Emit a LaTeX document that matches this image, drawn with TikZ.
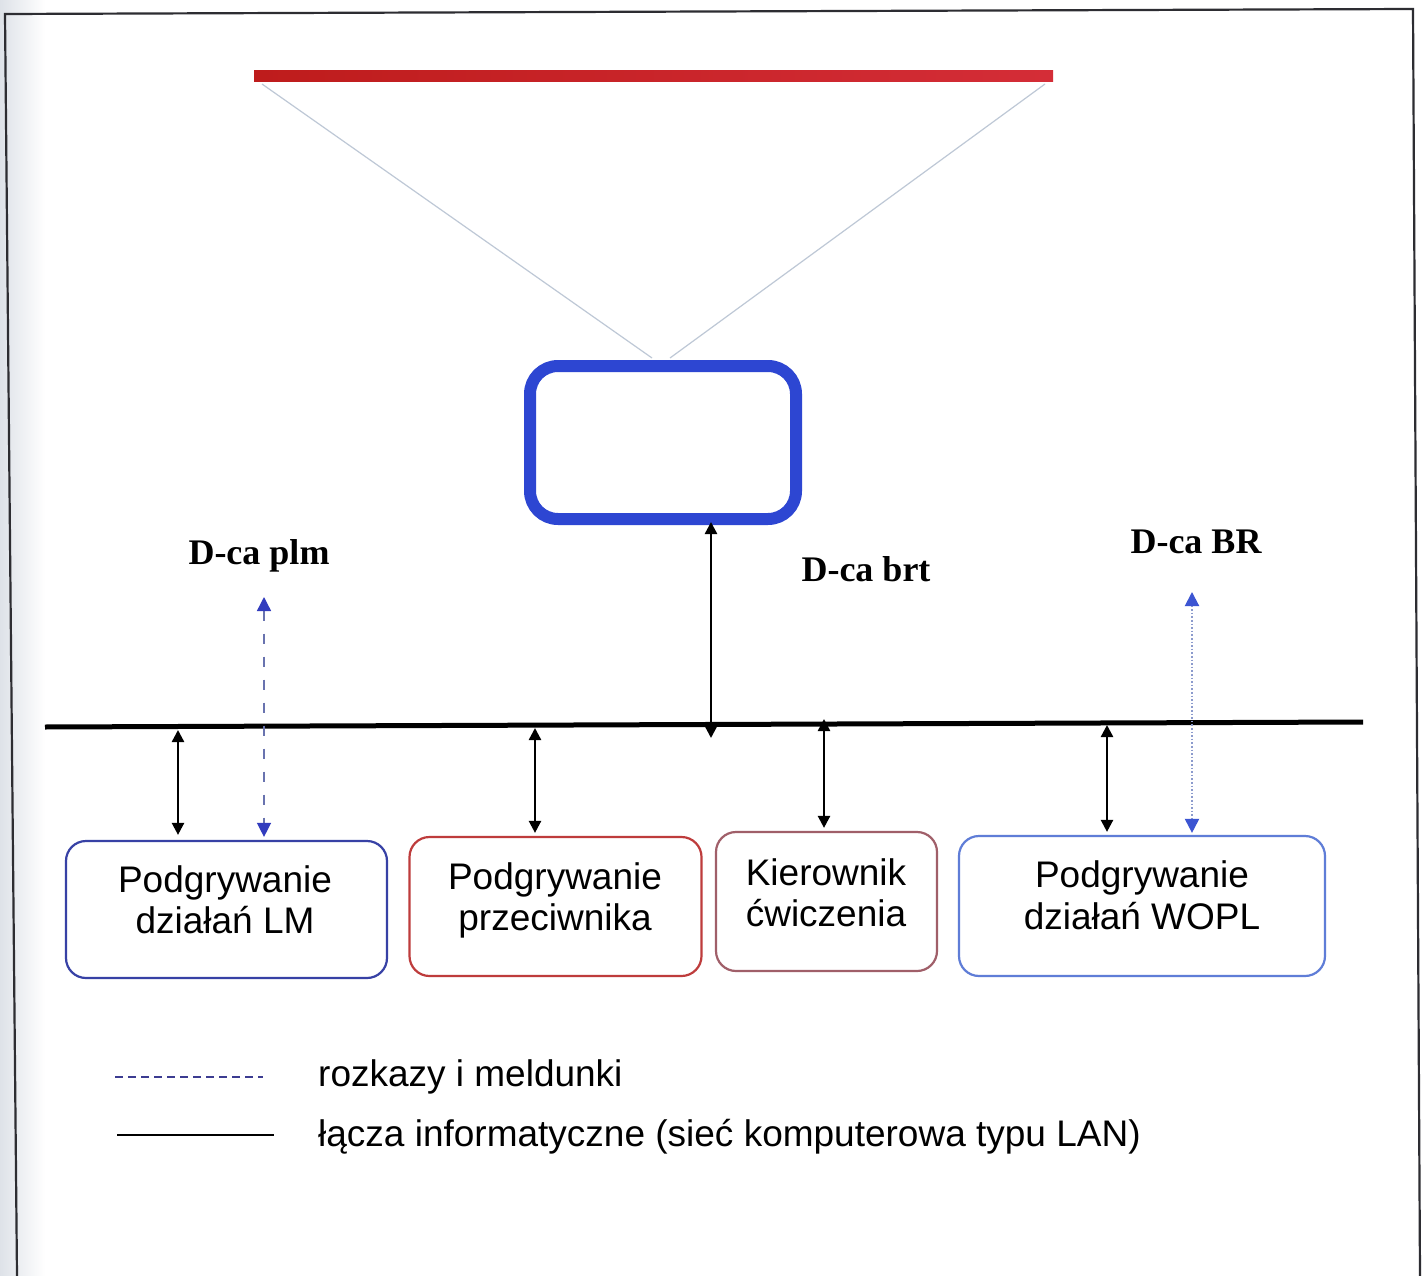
\documentclass[tikz,border=0pt]{standalone}
\usepackage{fontspec}
\setmainfont{Liberation Sans}
\newfontfamily\chieffont{Liberation Serif}
\usetikzlibrary{arrows.meta,calc}

\definecolor{framegray}{RGB}{45,45,50}
\definecolor{bardark}{RGB}{190,28,28}
\definecolor{barlight}{RGB}{212,45,55}
\definecolor{beamgray}{RGB}{190,200,214}
\definecolor{hqblue}{RGB}{45,70,210}
\definecolor{lmblue}{RGB}{55,65,165}
\definecolor{enemyred}{RGB}{190,60,60}
\definecolor{directormauve}{RGB}{160,95,105}
\definecolor{woplblue}{RGB}{95,125,215}
\definecolor{orderline}{RGB}{105,115,175}
\definecolor{orderhead}{RGB}{50,60,190}
\definecolor{dotline}{RGB}{140,155,205}
\definecolor{dothead}{RGB}{60,85,210}
\definecolor{legdash}{RGB}{60,60,145}
\definecolor{scanedge}{RGB}{222,226,232}

\begin{document}
\begin{tikzpicture}[x=1pt,y=-1pt,
  unitbox/.style={draw, rounded corners=20pt, line width=2.2pt, inner sep=0pt},
  boxtext/.style={inner sep=0pt, anchor=base, font=\fontsize{37}{41}\selectfont},
  chief/.style={inner sep=0pt, anchor=base, font=\chieffont\bfseries\fontsize{36}{40}\selectfont},
  legtext/.style={inner sep=0pt, anchor=base west, font=\fontsize{37}{41}\selectfont},
  lanlink/.style={line width=2.4pt, black,
    {Triangle[width=12pt,length=12pt]}-{Triangle[width=12pt,length=12pt]}},
  orderlink/.style={line width=1.4pt, orderline, dash pattern=on 10pt off 13pt,
    {Triangle[width=14pt,length=14pt,color=orderhead]}-{Triangle[width=14pt,length=14pt,color=orderhead]}},
  dotlink/.style={line width=2pt, dotline, dash pattern=on 1.6pt off 2pt,
    {Triangle[width=14pt,length=14pt,color=dothead]}-{Triangle[width=14pt,length=14pt,color=dothead]}},
  beam/.style={line width=1.2pt, beamgray},
  bus/.style={line width=5pt, black}
]
\useasboundingbox (0,0) rectangle (1422,1276);

% scanned page edge and frame
\shade[left color=scanedge, right color=white] (0,0) rectangle (45,1276);
\fill[white] (45,0) rectangle (1422,1276);
\draw[line width=2.2pt, framegray] (17,1276) -- (5,14) -- (1413,9) -- (1420,1276);

% top bar and the command post screen
\node[inner sep=0pt, minimum width=799pt, minimum height=11pt,
      left color=bardark, right color=barlight] (bar) at (653.5,76.5) {};
\node[draw=hqblue, line width=12pt, rounded corners=28pt, inner sep=0pt,
      minimum width=266pt, minimum height=153pt] (hq) at (663,442.5) {};
\coordinate (barL) at (262,84);
\coordinate (barR) at (1045,84);
\coordinate (hqL) at (652,358);
\coordinate (hqR) at (670,358);
\draw[beam] (barL) -- (hqL);
\draw[beam] (barR) -- (hqR);

% LAN bus
\coordinate (busL) at (45,727);
\coordinate (busR) at (1363,722);
\draw[bus] (busL) -- (busR);

% units
\node[unitbox, draw=lmblue, minimum width=321pt, minimum height=137pt] (lm) at (226.5,909.5) {};
\node[unitbox, draw=enemyred, minimum width=292pt, minimum height=139pt] (prz) at (555.5,906.5) {};
\node[unitbox, draw=directormauve, minimum width=221pt, minimum height=139pt] (kier) at (826.5,901.5) {};
\node[unitbox, draw=woplblue, minimum width=366pt, minimum height=140pt] (wopl) at (1142,906) {};

\node[boxtext] (lmA) at (225,892) {Podgrywanie};
\node[boxtext] (lmB) at (225,933) {działań LM};
\node[boxtext] (przA) at (555,889) {Podgrywanie};
\node[boxtext] (przB) at (555,930) {przeciwnika};
\node[boxtext] (kierA) at (826,885) {Kierownik};
\node[boxtext] (kierB) at (826,926) {ćwiczenia};
\node[boxtext] (woplA) at (1142,887) {Podgrywanie};
\node[boxtext] (woplB) at (1142,929) {działań WOPL};

% commanders
\node[chief] (plm) at (259,564) {D-ca plm};
\node[chief] (brt) at (866,581) {D-ca brt};
\node[chief] (br) at (1196,553) {D-ca BR};

% LAN connections
\coordinate (tapLM) at (178,730);
\coordinate (tapPrz) at (535,728);
\coordinate (tapHQ) at (711,738);
\coordinate (tapKier) at (824,719);
\coordinate (tapWopl) at (1107,725);
\draw[lanlink] (tapLM) -- ($(lm.north -| tapLM)+(0,-5)$);
\draw[lanlink] (tapPrz) -- ($(prz.north -| tapPrz)+(0,-3)$);
\draw[lanlink] (tapHQ) -- ($(hq.south -| tapHQ)+(0,-3)$);
\draw[lanlink] (tapKier) -- ($(kier.north -| tapKier)+(0,-3)$);
\draw[lanlink] (tapWopl) -- ($(wopl.north -| tapWopl)+(0,-3)$);

% orders and reports
\coordinate (plmEnd) at (264,597);
\coordinate (brEnd) at (1192,592);
\draw[orderlink] (plmEnd) -- ($(lm.north -| plmEnd)+(0,-3)$);
\draw[dotlink] (brEnd) -- ($(wopl.north -| brEnd)+(0,-2)$);

% legend
\coordinate (lgA1) at (115,1077);
\coordinate (lgA2) at (263,1077);
\coordinate (lgB1) at (117,1135);
\coordinate (lgB2) at (274,1135);
\draw[line width=2pt, legdash, dash pattern=on 8pt off 5pt] (lgA1) -- (lgA2);
\draw[line width=2.6pt, black] (lgB1) -- (lgB2);
\node[legtext] (leg1) at (318,1086) {rozkazy i meldunki};
\node[legtext] (leg2) at (318,1146) {łącza informatyczne (sieć komputerowa typu LAN)};
\end{tikzpicture}
\end{document}
